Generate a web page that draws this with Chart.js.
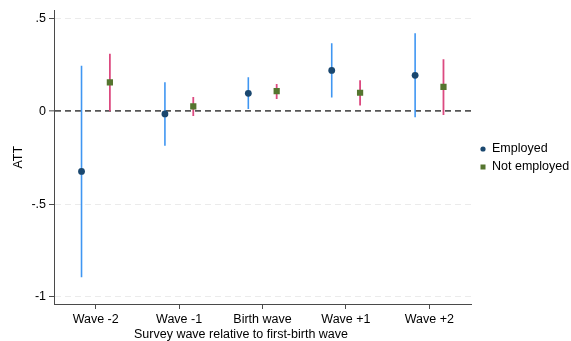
<!DOCTYPE html>
<html>
<head>
<meta charset="utf-8">
<script src="https://cdn.jsdelivr.net/npm/chart.js@4"></script>
<style>
    body { margin: 0; background: #fff; }
    #wrap { width: 571px; height: 341px; }
</style>
</head>
<body>
<div id="wrap"><canvas id="chart" width="571" height="341"></canvas></div>
<script>
// DATA
const categories = ['Wave -2', 'Wave -1', 'Birth wave', 'Wave +1', 'Wave +2']

const employedATT = [-0.324, -0.014, 0.097, 0.220, 0.194]
const employedLow = [-0.894, -0.186, 0.013, 0.074, -0.032]
const employedHigh = [0.246, 0.156, 0.183, 0.366, 0.421]

const notEmployedATT = [0.156, 0.027, 0.109, 0.100, 0.131]
const notEmployedLow = [0.000, -0.025, 0.066, 0.031, -0.020]
const notEmployedHigh = [0.310, 0.077, 0.147, 0.167, 0.280]

const yTicks = [-1, -0.5, 0, 0.5]
const yTickLabels = ['-1', '-.5', '0', '.5']

const xTitle = 'Survey wave relative to first-birth wave'
const yTitle = 'ATT'

// STYLE
const fontFamily = '"Liberation Sans", Arial, Helvetica, sans-serif'
const groupOffset = 0.17
const employedColor = '#1a476f'
const employedCIColor = '#3f96f2'
const notEmployedColor = '#55752f'
const notEmployedCIColor = '#dc4a80'
const axisColor = '#4a4a4a'

const makePoints = (values, offset) => values.map((v, i) => ({ x: i + offset, y: v }))

const makeBars = (lows, highs, offset) => {
    const points = []
    lows.forEach((low, i) => {
        points.push({ x: i + offset, y: low })
        points.push({ x: i + offset, y: highs[i] })
        points.push({ x: i + offset, y: null })
    })
    return points
}

// LEGEND + X TITLE
const extrasPlugin = {
    id: 'extras',
    afterDraw(chart) {
        const ctx = chart.ctx
        ctx.save()
        ctx.fillStyle = '#000'
        ctx.font = `12.5px ${fontFamily}`
        ctx.textAlign = 'center'
        ctx.textBaseline = 'middle'
        ctx.fillText(xTitle, 241, 334.5)

        const legendItems = [
            { label: chart.data.datasets[2].label, color: employedColor, shape: 'circle', y: 149 },
            { label: chart.data.datasets[3].label, color: notEmployedColor, shape: 'rect', y: 167 },
        ]
        ctx.textAlign = 'left'
        legendItems.forEach((item) => {
            ctx.fillStyle = item.color
            if (item.shape === 'circle') {
                ctx.beginPath()
                ctx.arc(483, item.y, 2.6, 0, Math.PI * 2)
                ctx.fill()
            } else {
                ctx.fillRect(480.5, item.y - 2.5, 5, 5)
            }
            ctx.fillStyle = '#000'
            ctx.fillText(item.label, 492, item.y)
        })
        ctx.restore()
    }
}

const chartCtx = document.getElementById('chart')

new Chart(chartCtx, {
    type: 'scatter',
    data: {
        datasets: [
            {
                label: 'Employed CI',
                data: makeBars(employedLow, employedHigh, -groupOffset),
                showLine: true,
                borderColor: employedCIColor,
                borderWidth: 1.6,
                pointRadius: 0,
                order: 3,
            },
            {
                label: 'Not employed CI',
                data: makeBars(notEmployedLow, notEmployedHigh, groupOffset),
                showLine: true,
                borderColor: notEmployedCIColor,
                borderWidth: 1.8,
                pointRadius: 0,
                order: 3,
            },
            {
                label: 'Employed',
                data: makePoints(employedATT, -groupOffset),
                pointStyle: 'circle',
                pointRadius: 3.4,
                backgroundColor: employedColor,
                borderColor: employedColor,
                borderWidth: 0,
                order: 1,
            },
            {
                label: 'Not employed',
                data: makePoints(notEmployedATT, groupOffset),
                pointStyle: 'rect',
                pointRadius: 4.4,
                backgroundColor: notEmployedColor,
                borderColor: notEmployedColor,
                borderWidth: 0,
                order: 1,
            },
        ]
    },
    options: {
        responsive: false,
        animation: false,
        events: [],
        layout: {
            padding: { top: 10, right: 100, bottom: 0, left: 0 }
        },
        plugins: {
            legend: { display: false },
            tooltip: { enabled: false },
        },
        scales: {
            x: {
                type: 'linear',
                min: -0.5,
                max: 4.5,
                afterBuildTicks: (scale) => {
                    scale.ticks = categories.map((c, i) => ({ value: i }))
                },
                afterFit: (scale) => {
                    scale.height = 37
                },
                ticks: {
                    callback: (value) => categories[value],
                    color: '#000',
                    padding: 3,
                    maxRotation: 0,
                    font: { family: fontFamily, size: 12.5 },
                },
                grid: {
                    drawOnChartArea: false,
                    tickLength: 5,
                    tickColor: axisColor,
                },
                border: { color: axisColor, width: 1 },
            },
            y: {
                type: 'linear',
                min: -1.038,
                max: 0.543,
                afterBuildTicks: (scale) => {
                    scale.ticks = yTicks.map((v) => ({ value: v }))
                },
                afterFit: (scale) => {
                    scale.width = 54
                },
                ticks: {
                    callback: (value) => yTickLabels[yTicks.indexOf(value)],
                    color: '#000',
                    padding: 3,
                    font: { family: fontFamily, size: 12.5 },
                },
                title: {
                    display: true,
                    text: yTitle,
                    color: '#000',
                    padding: { top: 11, bottom: 0 },
                    font: { family: fontFamily, size: 12.5 },
                },
                grid: {
                    color: (c) => (c.tick && c.tick.value === 0 ? '#555555' : '#ebebeb'),
                    lineWidth: (c) => (c.tick && c.tick.value === 0 ? 1.7 : 1),
                    tickLength: 5,
                    tickColor: axisColor,
                    tickWidth: 1,
                },
                border: {
                    color: axisColor,
                    width: 1,
                    dash: [6, 4],
                },
            }
        }
    },
    plugins: [extrasPlugin],
})
</script>
</body>
</html>
